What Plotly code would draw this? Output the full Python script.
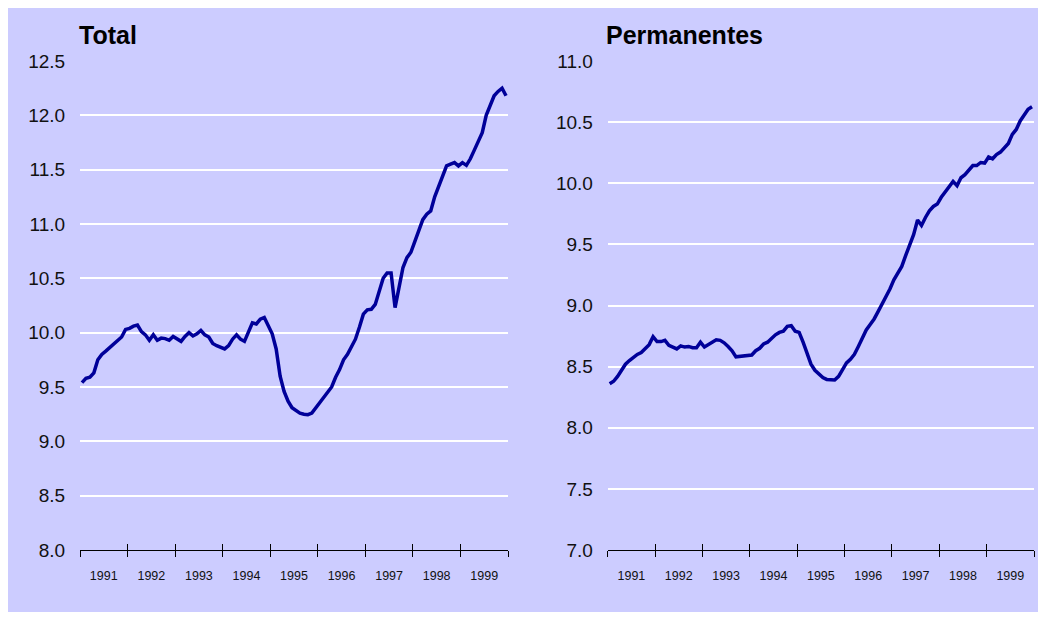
import plotly.graph_objects as go

# ---- data (monthly, Jan 1991 - Dec 1999) ----
years = [1991, 1992, 1993, 1994, 1995, 1996, 1997, 1998, 1999]
year_labels = ["1991", "1992", "1993", "1994", "1995", "1996", "1997", "1998", "1999"]

total = [
    9.54, 9.58, 9.59, 9.63, 9.75, 9.80, 9.83, 9.86, 9.89, 9.93, 9.96, 10.03,
    10.04, 10.06, 10.07, 10.01, 9.98, 9.93, 9.98, 9.93, 9.95, 9.945, 9.93, 9.965,
    9.94, 9.92, 9.965, 10.00, 9.97, 9.99, 10.02, 9.98, 9.96, 9.90, 9.88, 9.865,
    9.85, 9.88, 9.94, 9.98, 9.94, 9.92, 10.01, 10.09, 10.08, 10.125, 10.14, 10.07,
    9.99, 9.85, 9.60, 9.46, 9.37, 9.31, 9.28, 9.26, 9.25, 9.245, 9.26, 9.31,
    9.35, 9.40, 9.45, 9.50, 9.59, 9.66, 9.75, 9.80, 9.87, 9.94, 10.05, 10.17,
    10.21, 10.215, 10.26, 10.38, 10.50, 10.55, 10.55, 10.23, 10.42, 10.60, 10.69, 10.74,
    10.84, 10.94, 11.04, 11.09, 11.12, 11.25, 11.34, 11.45, 11.535, 11.55, 11.565, 11.535,
    11.565, 11.54, 11.60, 11.68, 11.76, 11.84, 12.00, 12.10, 12.18, 12.22, 12.25, 12.18,
]

permanentes = [
    8.36, 8.38, 8.42, 8.47, 8.52, 8.55, 8.575, 8.60, 8.615, 8.65, 8.68, 8.745,
    8.705, 8.705, 8.715, 8.675, 8.66, 8.645, 8.67, 8.66, 8.665, 8.655, 8.655, 8.70,
    8.66, 8.68, 8.705, 8.72, 8.715, 8.695, 8.665, 8.63, 8.58, 8.585, 8.59, 8.593,
    8.595, 8.63, 8.65, 8.685, 8.70, 8.73, 8.76, 8.78, 8.79, 8.83, 8.835, 8.79,
    8.78, 8.70, 8.60, 8.52, 8.47, 8.44, 8.41, 8.395, 8.39, 8.39, 8.42, 8.47,
    8.53, 8.56, 8.60, 8.665, 8.73, 8.80, 8.845, 8.89, 8.95, 9.01, 9.07, 9.135,
    9.21, 9.27, 9.32, 9.41, 9.49, 9.58, 9.70, 9.655, 9.72, 9.775, 9.81, 9.83,
    9.885, 9.925, 9.97, 10.015, 9.98, 10.045, 10.07, 10.11, 10.145, 10.145, 10.17, 10.165,
    10.215, 10.20, 10.235, 10.255, 10.29, 10.325, 10.40, 10.44, 10.51, 10.56, 10.605, 10.625,
]

titles = ["Total", "Permanentes"]

# month positions as decimal years (mid-month)
months = [y + (m + 0.5) / 12 for y in years for m in range(12)]

LINE = "#000099"
BG = "#CCCCFF"
FONT = "Arial, Liberation Sans, sans-serif"

fig = go.Figure()
fig.add_trace(go.Scatter(x=months, y=total, mode="lines", xaxis="x", yaxis="y",
                         line=dict(color=LINE, width=3.5), showlegend=False, hoverinfo="skip"))
fig.add_trace(go.Scatter(x=months, y=permanentes, mode="lines", xaxis="x2", yaxis="y2",
                         line=dict(color=LINE, width=3.5), showlegend=False, hoverinfo="skip"))
# empty traces for overlay tick axes
fig.add_trace(go.Scatter(x=[], y=[], xaxis="x3", yaxis="y", showlegend=False, hoverinfo="skip"))
fig.add_trace(go.Scatter(x=[], y=[], xaxis="x4", yaxis="y2", showlegend=False, hoverinfo="skip"))

xr = [years[0], years[-1] + 1]
label_pos = [y + 0.5 for y in years]
bounds = list(range(years[0], years[-1] + 2))

def xmain(domain, anchor):
    return dict(domain=domain, anchor=anchor, range=xr, showgrid=False, zeroline=False,
                showline=True, linecolor="black", linewidth=1,
                tickmode="array", tickvals=label_pos, ticktext=year_labels,
                ticks="outside", ticklen=14, tickcolor="rgba(0,0,0,0)",
                tickfont=dict(size=12.5, color="#111111", family=FONT),
                minor=dict(tickmode="array", tickvals=bounds, ticks="outside", ticklen=6,
                           tickcolor="black", tickwidth=1, showgrid=False),
                fixedrange=True)

def xover(over, anchor):
    return dict(overlaying=over, anchor=anchor, range=xr, showgrid=False, zeroline=False,
                showline=False, tickmode="array", tickvals=bounds, ticks="inside", ticklen=6,
                tickcolor="black", tickwidth=1, showticklabels=False, fixedrange=True)

def ymain(rng, anchor):
    return dict(anchor=anchor, range=rng, dtick=0.5, tick0=rng[0], tickformat=".1f",
                showgrid=True, gridcolor="white", gridwidth=2, zeroline=False, showline=False,
                ticks="outside", ticklen=10, tickcolor="rgba(0,0,0,0)",
                tickfont=dict(size=19, color="#111111", family=FONT), fixedrange=True)

# page is offset by the browser's 8px body margin
OFF = 8
W, H = 1046 - OFF, 622 - OFF
ml, mr, mt, mb = 80 - OFF, 12, 61 - OFF, 72
pw = W - ml - mr
ph = H - mt - mb

def px(xpage):
    return (xpage - OFF - ml) / pw

def py(ypage):
    return (ph + mt - (ypage - OFF)) / ph

d1 = [0, px(508)]
d2 = [px(607.7), 1]

fig.update_layout(
    width=W, height=H,
    margin=dict(l=ml, r=mr, t=mt, b=mb),
    paper_bgcolor="white", plot_bgcolor=BG,
    font=dict(family=FONT, color="#111111"),
    xaxis=xmain(d1, "y"), yaxis=ymain([8, 12.5], "x"),
    xaxis2=xmain(d2, "y2"), yaxis2=ymain([7, 11], "x2"),
    xaxis3=xover("x", "y"), xaxis4=xover("x2", "y2"),
    shapes=[dict(type="rect", xref="paper", yref="paper", layer="below",
                 x0=px(0), x1=px(1046) + 0.01,
                 y0=py(612), y1=py(0),
                 fillcolor=BG, line=dict(width=0))],
    annotations=[
        dict(text="<b>%s</b>" % titles[0], xref="paper", yref="paper",
             x=px(77), y=py(35), xanchor="left", yanchor="middle",
             showarrow=False, font=dict(size=25, color="black", family=FONT)),
        dict(text="<b>%s</b>" % titles[1], xref="paper", yref="paper",
             x=px(604), y=py(35), xanchor="left", yanchor="middle",
             showarrow=False, font=dict(size=25, color="black", family=FONT)),
    ],
)

fig.write_html("out.html")
